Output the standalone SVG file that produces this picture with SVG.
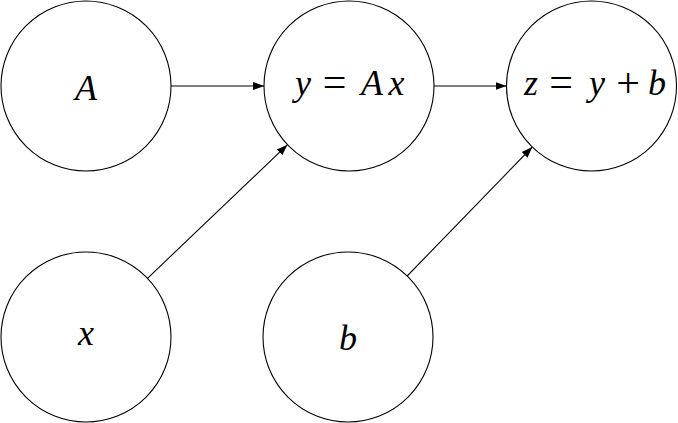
<svg xmlns="http://www.w3.org/2000/svg" width="678" height="423" viewBox="0 0 678 423">
<style>
.node circle{fill:#fff;stroke:#000;stroke-width:1.1}
.lbl{font-family:'Liberation Serif','DejaVu Serif',serif;font-size:36px;font-style:italic;fill:#000;text-anchor:middle}
.op{font-style:normal;font-size:42px}
.edge{stroke:#000;stroke-width:1.1;fill:none;marker-end:url(#arr)}
</style>
<defs>
<marker id="arr" markerUnits="userSpaceOnUse" markerWidth="12" markerHeight="10" viewBox="0 0 12 10" refX="11" refY="5" orient="auto">
<path d="M0,1 L11,5 L0,9 Z" fill="#000"/>
</marker>
</defs>
<rect width="678" height="423" fill="#fff"/>
<g id="connectors">
<line class="edge" x1="171" y1="86" x2="264" y2="86"/>
<line class="edge" x1="434" y1="86" x2="506.5" y2="86"/>
<line class="edge" x1="147.5" y1="278.3" x2="287.5" y2="144.7"/>
<line class="edge" x1="407.2" y1="276" x2="532.3" y2="147"/>
</g>
<g id="node-A" class="node"><circle cx="86" cy="86" r="85"/><text class="lbl" x="86" y="99.5">A</text></g>
<g id="node-y" class="node"><circle cx="349" cy="86" r="85"/><text class="lbl" y="95"><tspan x="303">y</tspan><tspan class="op" x="334.5" y="96">=</tspan><tspan x="372" y="95">A</tspan><tspan x="396.5">x</tspan></text></g>
<g id="node-z" class="node"><circle cx="591.5" cy="86" r="85"/><text class="lbl" y="95"><tspan x="531">z</tspan><tspan class="op" x="561" y="96">=</tspan><tspan x="597" y="95">y</tspan><tspan class="op" x="628" y="97">+</tspan><tspan x="657" y="95">b</tspan></text></g>
<g id="node-x" class="node"><circle cx="86" cy="337" r="85"/><text class="lbl" x="86" y="345">x</text></g>
<g id="node-b" class="node"><circle cx="348" cy="337" r="85"/><text class="lbl" x="348" y="349.5">b</text></g>
</svg>
